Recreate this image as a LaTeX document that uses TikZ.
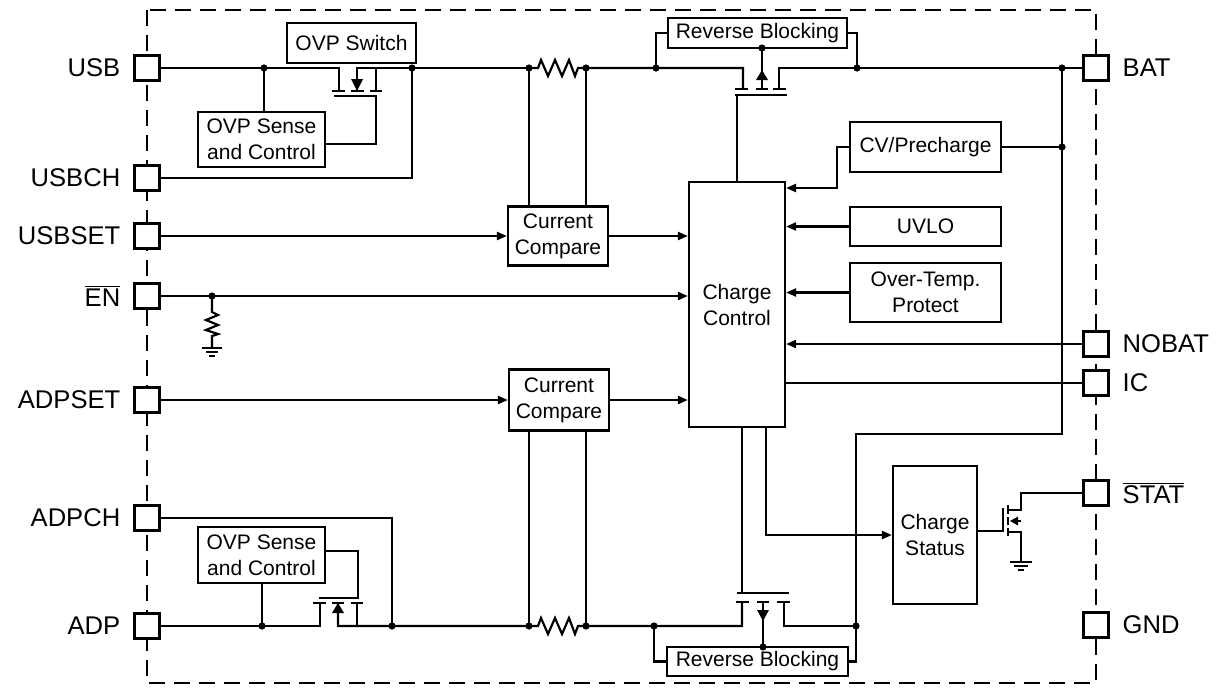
\documentclass[tikz,border=0pt]{standalone}
\usepackage{fontspec}
\setmainfont{Liberation Sans}
\usetikzlibrary{positioning,arrows.meta}

\tikzset{
  pad/.style={draw, fill=white, minimum size=12.5pt, inner sep=0pt},
  plab/.style={inner sep=0pt, font=\fontsize{12.8}{15}\selectfont},
  blk/.style={draw, align=center, inner sep=0pt, font=\fontsize{10.5}{13}\selectfont},
}

\begin{document}
\begin{tikzpicture}[x=0.5pt, y=-0.5pt, line width=1.1pt, >={Triangle[length=5pt,width=4pt]}]
  \useasboundingbox (0,0) rectangle (1216,687);
  \draw[dash pattern=on 8pt off 4.5pt] (147,10) rectangle (1096,683);

  % blocks
  \node[blk, minimum width=64.5pt, minimum height=20pt] (sw) at (351.5,43) {OVP Switch};
  \node[blk, minimum width=63.5pt, minimum height=27.5pt] (sns1) at (261.5,139.5) {OVP Sense\\and Control};
  \node[blk, minimum width=63.5pt, minimum height=28pt] (sns2) at (261.5,555) {OVP Sense\\and Control};
  \node[blk, minimum width=89.5pt, minimum height=15pt] (rb1) at (757.5,33) {Reverse Blocking};
  \node[blk, minimum width=90.5pt, minimum height=14.5pt] (rb2) at (757.5,661.5) {Reverse Blocking};
  \node[blk, minimum width=50pt, minimum height=29.5pt] (cc1) at (558,236) {Current\\Compare};
  \node[blk, minimum width=50pt, minimum height=30.5pt] (cc2) at (559,400) {Current\\Compare};
  \node[blk, minimum width=48pt, minimum height=122.5pt] (ctl) at (737,304.5) {Charge\\Control};
  \node[blk, minimum width=75.5pt, minimum height=25pt] (cv) at (925.5,147) {CV/Precharge};
  \node[blk, minimum width=75.5pt, minimum height=19.5pt] (uvlo) at (925.5,226.5) {UVLO};
  \node[blk, minimum width=75.5pt, minimum height=29.5pt] (ot) at (925.5,292.5) {Over-Temp.\\Protect};
  \node[blk, minimum width=42pt, minimum height=69pt] (cs) at (935,535) {Charge\\Status};

  % pins
  \foreach \n/\y/\t in {usb/68/USB, usbch/178/USBCH, usbset/236/USBSET, en/296/{$\overline{\mbox{EN}}$},
      adpset/400/ADPSET, adpch/518/ADPCH, adp/626/ADP} {
    \node[pad] (\n) at (147,\y) {};
    \node[plab, left=6pt of \n] {\t};
  }
  \foreach \n/\y/\t in {bat/68/BAT, nobat/344/NOBAT, ic/383/IC, stat/493/{$\overline{\mbox{STAT}}$}, gnd/625/GND} {
    \node[pad] (\n) at (1096,\y) {};
    \node[plab, right=6pt of \n] {\t};
  }

  % junctions
  \coordinate (d1) at (264,68);  \coordinate (d2) at (412,68);
  \coordinate (d3) at (529,68);  \coordinate (d4) at (586,68);
  \coordinate (d5) at (656,68);  \coordinate (d6) at (857,68);
  \coordinate (d7) at (1062,68); \coordinate (d8) at (1062,147);
  \coordinate (rbt) at (762,48); \coordinate (e1) at (212,296);
  \coordinate (d12) at (262,626); \coordinate (d13) at (392,626);
  \coordinate (d10) at (529,626); \coordinate (d11) at (586,626);
  \coordinate (d14) at (654,626); \coordinate (d9) at (856,626);
  \coordinate (rbb) at (763,647);

  % USB path and OVP switch
  \draw (usb) -- (d1) -- (339,68) -- (339,91);
  \draw (d1) -- (d1 |- sns1.north);
  \draw (357,91) -- (357,68) -- (d2) -- (d3);
  \draw (376,68) -- (376,91);
  \draw (332,91) -- (345,91) (351,91) -- (364,91) (370,91) -- (382,91);
  \draw (334,96) -- (376,96) -- (376,144) -- (sns1.east |- 0,144);
  \fill (351,79) -- (363,79) -- (357,91) -- cycle;
  \draw (d2) |- (usbch);

  % sense resistor and reverse blocking (top)
  \draw (d3) -- (538,68) -- (541,60) -- (548,76) -- (555,60) -- (562,76) -- (569,60) -- (575,76)
    -- (578,68) -- (d4) -- (d5) -- (743,68) -- (743,89);
  \draw (d3) -- (d3 |- cc1.north);
  \draw (d4) -- (d4 |- cc1.north);
  \draw (735,89) -- (748,89) (756,89) -- (768,89) (773,89) -- (786,89);
  \draw (735,95) -- (787,95);
  \draw (ctl.north) -- (737,95);
  \draw (762,89) -- (rbt);
  \fill (756,80) -- (768,80) -- (762,70) -- cycle;
  \draw (779,89) -- (779,68) -- (d6) -- (d7) -- (bat);
  \draw (d5) |- (rb1.west);
  \draw (rb1.east) -| (d6);

  % BAT sense
  \draw (d7) -- (1062,434) -- (856,434) -- (d9);
  \draw (d9) |- (rb2.east);
  \draw (cv.east) -- (d8);

  % inputs of charge control
  \draw[->] (cv.west) -- (837,147) |- (ctl.east |- 0,188);
  \draw[->] (uvlo) -- (uvlo -| ctl.east);
  \draw[->] (ot) -- (ot -| ctl.east);
  \draw[->] (nobat) -- (nobat -| ctl.east);
  \draw (ctl.east |- ic) -- (ic);
  \draw[->] (usbset) -- (cc1);
  \draw[->] (cc1) -- (cc1 -| ctl.west);
  \draw[->] (en) -- (en -| ctl.west);
  \draw[->] (adpset) -- (cc2);
  \draw[->] (cc2) -- (cc2 -| ctl.west);

  % EN pull-down
  \draw (e1) -- (212,312) -- (218,315) -- (206,320) -- (218,325) -- (206,330) -- (218,334) -- (212,336) -- (212,348);
  \draw (202,348) -- (222,348) (206,352) -- (218,352) (209,356) -- (215,356);

  % ADP path and OVP switch
  \draw (adp) -- (d12) -- (320,626) -- (320,603);
  \draw (d12) -- (d12 |- sns2.south);
  \draw (313,603) -- (326,603) (332,603) -- (344,603) (351,603) -- (363,603);
  \draw (319,598) -- (358,598) -- (358,551) -- (sns2.east |- 0,551);
  \fill (332,613) -- (344,613) -- (338,603) -- cycle;
  \draw (357,603) -- (357,626);
  \draw (adpch) -| (d13);
  \draw (338,603) -- (338,626) -- (d13) -- (d10) -- (538,626) -- (541,618) -- (548,634) -- (555,618)
    -- (562,634) -- (569,618) -- (575,634) -- (578,626) -- (d11) -- (d14) -- (742,626) -- (742,602);
  \draw (d10) -- (d10 |- cc2.south);
  \draw (d11) -- (d11 |- cc2.south);

  % reverse blocking (bottom)
  \draw (736,602) -- (749,602) (757,602) -- (769,602) (777,602) -- (790,602);
  \draw (737,593) -- (789,593);
  \draw (742,593) -- (742,593 |- ctl.south);
  \draw (763,602) -- (rbb);
  \fill (757,610) -- (769,610) -- (763,621) -- cycle;
  \draw (784,602) -- (784,626) -- (d9);
  \draw (d14) |- (rb2.west);

  % charge status and STAT output
  \draw[->] (ctl.south -| 766,0) |- (cs.west);
  \draw (cs.east |- 0,531) -- (1003,531);
  \draw (1003,508) -- (1003,532);
  \draw (1008,505) -- (1008,514) (1008,517) -- (1008,525) (1008,528) -- (1008,536);
  \draw (1008,510) -- (1021,510) |- (stat);
  \draw (1008,532) -- (1021,532) -- (1021,562);
  \draw (1017,521) -- (1021,521);
  \fill (1010,521) -- (1018,516.5) -- (1018,525.5) -- cycle;
  \draw (1010,562) -- (1032,562) (1014,566) -- (1028,566) (1018,570) -- (1024,570);

  \foreach \p in {d1,d2,d3,d4,d5,d6,d7,d8,rbt,e1,d12,d13,d10,d11,d14,d9,rbb}
    \fill (\p) circle (1.8pt);
\end{tikzpicture}
\end{document}
